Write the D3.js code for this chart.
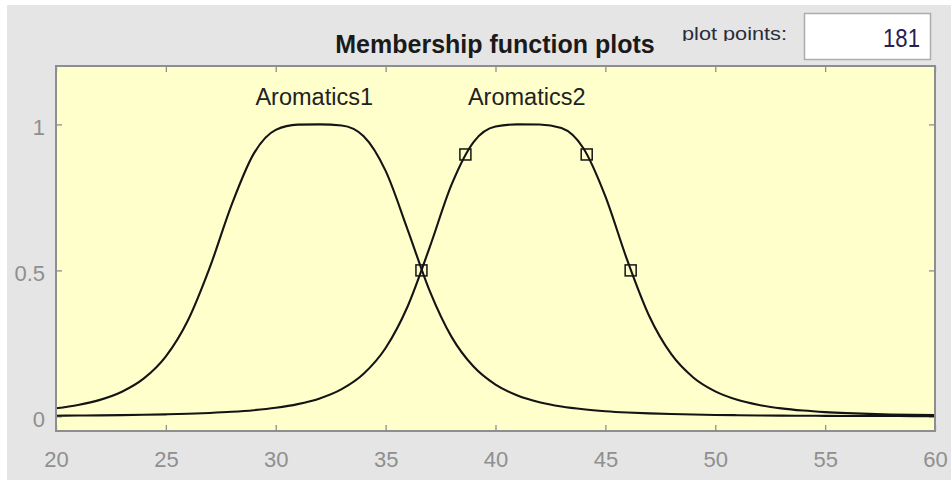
<!DOCTYPE html>
<html>
<head>
<meta charset="utf-8">
<script src="https://cdn.jsdelivr.net/npm/d3@7"></script>
<style>
  html, body { margin: 0; padding: 0; background: #ffffff; }
  svg { display: block; }
</style>
</head>
<body>
<script>
// Input variable range, sampled once per unit
const xs = [20, 21, 22, 23, 24, 25, 26, 27, 28, 29, 30, 31, 32, 33, 34, 35, 36, 37, 38, 39, 40,
            41, 42, 43, 44, 45, 46, 47, 48, 49, 50, 51, 52, 53, 54, 55, 56, 57, 58, 59, 60];

// Membership degree of "Aromatics1"
const aromatics1 = [0.0277, 0.0391, 0.0566, 0.0845, 0.1300, 0.2056, 0.3284, 0.5104, 0.7263, 0.9000,
                    0.9814, 0.9993, 1.0000, 0.9963, 0.9594, 0.8407, 0.6400, 0.4308, 0.2724, 0.1707,
                    0.1090, 0.0717, 0.0486, 0.0340, 0.0244, 0.0179, 0.0134, 0.0103, 0.0080, 0.0063,
                    0.0050, 0.0041, 0.0033, 0.0027, 0.0023, 0.0019, 0.0016, 0.0014, 0.0012, 0.0010,
                    0.0009];

// Membership degree of "Aromatics2"
const aromatics2 = [0.0024, 0.0030, 0.0036, 0.0045, 0.0056, 0.0071, 0.0090, 0.0118, 0.0157, 0.0213,
                    0.0295, 0.0420, 0.0617, 0.0935, 0.1462, 0.2343, 0.3764, 0.5780, 0.7935, 0.9393,
                    0.9926, 1.0000, 0.9997, 0.9874, 0.9183, 0.7535, 0.5341, 0.3429, 0.2129, 0.1334,
                    0.0858, 0.0570, 0.0391, 0.0276, 0.0200, 0.0148, 0.0112, 0.0086, 0.0067, 0.0053,
                    0.0043];

// Handles on the selected function (Aromatics2)
const handleX = [36.63, 38.63, 44.15, 46.15];
const handleY = [0.5, 0.897, 0.897, 0.5];

// Function names and where they are written
const mfNames = ["Aromatics1", "Aromatics2"];
const mfCenters = [31.75, 41.42];
const nameLevel = 1.066;

const xTicks = [20, 25, 30, 35, 40, 45, 50, 55, 60];
const yTicks = [0, 0.5, 1];
const yTickLabels = ["0", "0.5", "1"];

const titleText = "Membership function plots";
const pointsLabel = "plot points:";
const pointsValue = "181";

const W = 951, H = 480;
const plot = { left: 56, right: 935, top: 66, bottom: 431 };

const svg = d3.select("body").append("svg")
  .attr("width", W).attr("height", H)
  .style("font-family", "'Liberation Sans', Arial, sans-serif");

// Window panel
svg.append("rect").attr("x", 7).attr("y", 5).attr("width", W - 7).attr("height", H - 5)
  .attr("fill", "#e5e5e5");

const x = d3.scaleLinear().domain([20, 60]).range([plot.left, plot.right]);
const y = d3.scaleLinear().domain([-0.05, 1.2]).range([plot.bottom, plot.top]);

// Axes background
svg.append("rect")
  .attr("x", plot.left).attr("y", plot.top)
  .attr("width", plot.right - plot.left).attr("height", plot.bottom - plot.top)
  .attr("fill", "#ffffcc");

const tickColor = "#8e8e8e";
function styleAxis(g, showLabels) {
  g.select(".domain").remove();
  g.selectAll(".tick line").attr("stroke", tickColor).attr("stroke-width", 1.3);
  if (!showLabels) g.selectAll(".tick text").remove();
}

// Bottom axis with labels
const gx = svg.append("g").attr("transform", `translate(0,${plot.bottom})`)
  .call(d3.axisBottom(x).tickValues(xTicks).tickFormat(d3.format("d")).tickSizeInner(-6).tickSizeOuter(0));
styleAxis(gx, true);
gx.selectAll(".tick text")
  .attr("y", 36).attr("dy", null)
  .attr("fill", "#8f8f8f").attr("font-size", 22)
  .attr("font-family", "'Liberation Sans Narrow', 'Liberation Sans', Arial, sans-serif");

// Top axis ticks
const gxt = svg.append("g").attr("transform", `translate(0,${plot.top})`)
  .call(d3.axisTop(x).tickValues(xTicks).tickSizeInner(-6).tickSizeOuter(0));
styleAxis(gxt, false);

// Left axis with labels
const gy = svg.append("g").attr("transform", `translate(${plot.left},0)`)
  .call(d3.axisLeft(y).tickValues(yTicks).tickFormat((d, i) => yTickLabels[i]).tickSizeInner(-6).tickSizeOuter(0));
styleAxis(gy, true);
gy.selectAll(".tick text")
  .attr("x", -11).attr("dy", "0.45em")
  .attr("fill", "#8f8f8f").attr("font-size", 22)
  .attr("font-family", "'Liberation Sans Narrow', 'Liberation Sans', Arial, sans-serif");

// Right axis ticks
const gyr = svg.append("g").attr("transform", `translate(${plot.right},0)`)
  .call(d3.axisRight(y).tickValues(yTicks).tickSizeInner(-6).tickSizeOuter(0));
styleAxis(gyr, false);

// Membership curves
const series = [aromatics1, aromatics2];
const line = d3.line()
  .x((d, i) => x(xs[i]))
  .y(d => y(d))
  .curve(d3.curveMonotoneX);

const clip = svg.append("clipPath").attr("id", "plot-clip")
  .append("rect").attr("x", plot.left).attr("y", plot.top)
  .attr("width", plot.right - plot.left).attr("height", plot.bottom - plot.top);

svg.append("g").attr("clip-path", "url(#plot-clip)")
  .selectAll("path.mf")
  .data(series)
  .join("path")
  .attr("class", "mf")
  .attr("d", line)
  .attr("fill", "none")
  .attr("stroke", "#141414")
  .attr("stroke-width", 2.1)
  .attr("stroke-linejoin", "round");

// Square handles
const hs = 11;
svg.append("g").selectAll("rect.handle")
  .data(handleX)
  .join("rect")
  .attr("class", "handle")
  .attr("x", (d) => x(d) - hs / 2)
  .attr("y", (d, i) => y(handleY[i]) - hs / 2)
  .attr("width", hs).attr("height", hs)
  .attr("fill", "none")
  .attr("stroke", "#141414")
  .attr("stroke-width", 1.5);

// Function names
svg.append("g").selectAll("text.mfname")
  .data(mfNames)
  .join("text")
  .attr("class", "mfname")
  .attr("x", (d, i) => x(mfCenters[i]))
  .attr("y", y(nameLevel))
  .attr("text-anchor", "middle")
  .attr("font-size", 23.5)
  .attr("fill", "#222")
  .text(d => d);

// Axes box
svg.append("rect")
  .attr("x", plot.left).attr("y", plot.top)
  .attr("width", plot.right - plot.left).attr("height", plot.bottom - plot.top)
  .attr("fill", "none").attr("stroke", tickColor).attr("stroke-width", 2);

// Title
svg.append("text")
  .attr("x", 495).attr("y", 53)
  .attr("text-anchor", "middle")
  .attr("font-size", 25).attr("font-weight", "bold")
  .attr("fill", "#1a1a1a")
  .text(titleText);

// Plot points control
svg.append("clipPath").attr("id", "label-clip")
  .append("rect").attr("x", 670).attr("y", 15).attr("width", 130).attr("height", 26);
svg.append("text")
  .attr("clip-path", "url(#label-clip)")
  .attr("x", 682).attr("y", 40)
  .attr("font-size", 18.5)
  .attr("textLength", 105).attr("lengthAdjust", "spacingAndGlyphs")
  .attr("fill", "#2b2b3a")
  .text(pointsLabel);

svg.append("rect")
  .attr("x", 804.5).attr("y", 13.5).attr("width", 126).attr("height", 46)
  .attr("fill", "#ffffff").attr("stroke", "#adadad").attr("stroke-width", 1.5);
svg.append("text")
  .attr("x", 920).attr("y", 47)
  .attr("text-anchor", "end")
  .attr("font-size", 25)
  .attr("textLength", 37).attr("lengthAdjust", "spacingAndGlyphs")
  .attr("fill", "#2a2050")
  .text(pointsValue);
</script>
</body>
</html>
